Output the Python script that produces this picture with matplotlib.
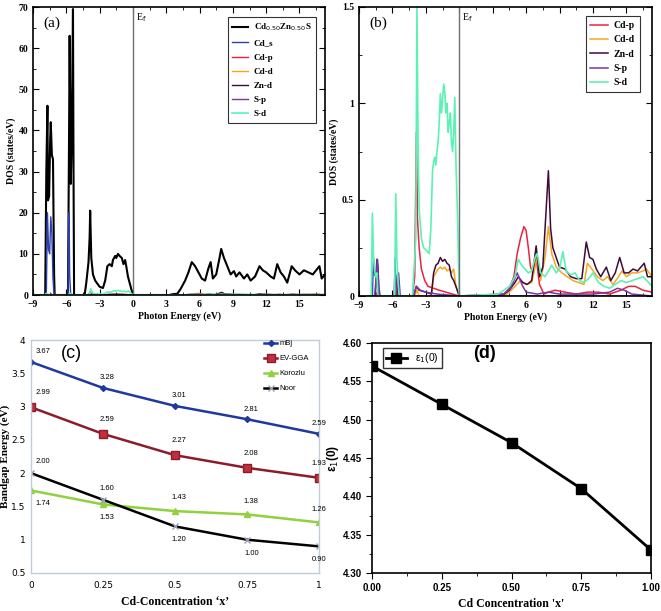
import matplotlib.pyplot as plt
import numpy as np

# ---------------- data ----------------
# (a) total DOS of Cd0.50Zn0.50S
tot_e = [-9, -7.9, -7.8, -7.7, -7.65, -7.55, -7.45, -7.4, -7.3, -7.2, -7.1, -7.05, -5.85, -5.75, -5.7,
         -5.6, -5.5, -5.45, -5.4, -5.35, -5.3, -4.35, -4.2, -4.0, -3.9, -3.85, -3.75, -3.6, -3.4, -3.0,
         -2.7, -2.5, -2.3, -2.1, -1.9, -1.8, -1.6, -1.5, -1.35, -1.2, -1.0, -0.85, -0.7, -0.6, -0.45,
         -0.3, -0.1, 0, 3.3, 3.6, 4.0, 4.3, 4.7, 5.0, 5.3, 5.6, 5.9, 6.2, 6.5, 6.8, 7.0, 7.2, 7.5,
         7.8, 7.95, 8.2, 8.5, 8.8, 9.1, 9.3, 9.6, 10.0, 10.3, 10.6, 11.0, 11.4, 11.7, 12.0, 12.4,
         12.7, 13.0, 13.3, 13.6, 13.9, 14.3, 14.6, 15.0, 15.4, 15.8, 16.2, 16.5, 16.8, 17.0, 17.3]
tot_d = [0, 0, 30, 46, 23, 24, 38, 42, 34, 33, 5, 0, 0, 40, 63,
         27, 40, 55, 69.5, 30, 0, 0, 3, 8, 14, 20.5, 9, 5, 3.5, 2,
         1.7, 3.5, 7, 7.5, 7, 8.5, 9.5, 9, 10, 9.5, 9, 7.5, 8.5, 7, 4.5,
         3, 1, 0, 0, 0.2, 0.3, 1.5, 3.5, 5.5, 8, 7, 5.5, 4, 3.5, 6.5, 8, 4, 5,
         9, 11.2, 9, 7, 5, 5.8, 4.5, 5.5, 4, 5, 3.5, 4.5, 7, 6, 5.5, 4.5,
         4, 7.5, 5.5, 4.5, 3, 7, 6, 5, 6, 5.5, 5, 6, 7, 4, 5]
# (a) Cd s
cds_e = [-9, -7.8, -7.7, -7.6, -7.5, -7.4, -7.3, -7.2, -7.1, -5.85, -5.75, -5.7, -5.6, 17.3]
cds_d = [0, 0, 20, 11, 10, 19, 15, 4, 0, 0, 20, 5, 0, 0]
# (a)/(b) partial DOS
sd_e = [-9, -7.9, -7.8, -7.7, -7.6, -7.5, -7.4, -7.3, -5.8, -5.7, -5.6, -5.5, -5.4, -4.2, -3.9,
        -3.8, -3.7, -3.6, -3.4, -3.2, -3.0, -2.7, -2.55, -2.4, -2.3, -2.2, -2.1, -2.0, -1.9, -1.8,
        -1.7, -1.6, -1.5, -1.4, -1.3, -1.2, -1.1, -1.0, -0.9, -0.8, -0.7, -0.6, -0.5, -0.4, -0.3,
        -0.15, 0, 3.5, 4.0, 4.5, 5.0, 5.3, 5.6, 5.9, 6.2, 6.5, 6.8, 7.0, 7.3, 7.7, 8.0, 8.3, 8.7,
        9.0, 9.3, 9.6, 10.0, 10.4, 10.8, 11.2, 11.6, 12.0, 12.5, 13.0, 13.5, 14.0, 14.5, 15.0, 15.5,
        16.0, 16.5, 17.0, 17.3]
sd_d = [0, 0, 0.43, 0.2, 0.13, 0.1, 0.12, 0, 0, 0.53, 0.2, 0.08, 0, 0, 0.3,
        1.5, 0.8, 0.45, 0.3, 0.25, 0.24, 0.22, 0.35, 0.65, 0.7, 0.72, 0.68, 0.75, 0.8, 0.9,
        1.05, 0.95, 1.02, 1.1, 1.06, 0.95, 1.0, 0.85, 0.9, 0.95, 0.8, 0.75, 0.85, 1.03, 0.7,
        0.4, 0, 0.01, 0.03, 0.05, 0.1, 0.19, 0.16, 0.14, 0.12, 0.13, 0.2, 0.22, 0.12, 0.1, 0.13, 0.16, 0.12,
        0.14, 0.23, 0.13, 0.11, 0.12, 0.08, 0.07, 0.09, 0.12, 0.07, 0.05, 0.04, 0.06, 0.08, 0.07, 0.08,
        0.09, 0.1, 0.07, 0.05]
cdp_e = [-9, -7.6, -7.5, -7.4, -5.7, -5.6, -5.5, -4.2, -4.0, -3.85, -3.75, -3.6, -3.4, -3.1, -2.8,
         -2.3, -1.8, -1.2, -0.6, 0, 4.0, 4.5, 4.9, 5.2, 5.5, 5.8, 6.0, 6.2, 6.4, 6.6, 6.9, 7.2,
         7.6, 8.0, 8.6, 9.5, 10.5, 11.5, 12.5, 13.5, 14.5, 15.2, 15.8, 16.5, 17.3]
cdp_d = [0, 0, 0.02, 0, 0, 0.05, 0, 0, 0.1, 0.85, 0.4, 0.25, 0.14, 0.08, 0.05,
         0.04, 0.03, 0.02, 0.01, 0, 0.01, 0.04, 0.1, 0.22, 0.3, 0.36, 0.34, 0.25, 0.15, 0.12, 0.2, 0.06,
         0.01, 0.02, 0.03, 0.02, 0.01, 0.02, 0.02, 0.01, 0.03, 0.05, 0.05, 0.03, 0.02]
cdd_e = [-9, -4.0, -3.8, -3.6, -2.5, -2.3, -2.1, -1.9, -1.7, -1.5, -1.3, -1.1, -0.9, -0.7, -0.5,
         -0.3, 0, 4.0, 4.5, 5.0, 5.5, 6.0, 6.5, 6.8, 7.0, 7.3, 7.7, 8.0, 8.3, 8.7, 9.2, 9.7,
         10.2, 10.7, 11.2, 11.5, 11.9, 12.4, 12.9, 13.3, 13.8, 14.3, 14.6, 15.0, 15.5, 16.0, 16.5,
         16.8, 17.3]
cdd_d = [0, 0, 0.03, 0, 0, 0.1, 0.12, 0.14, 0.15, 0.14, 0.15, 0.13, 0.14, 0.12, 0.14,
         0.05, 0, 0, 0.02, 0.05, 0.08, 0.06, 0.07, 0.15, 0.2, 0.08, 0.2, 0.36, 0.22, 0.15, 0.12, 0.1,
         0.08, 0.07, 0.06, 0.17, 0.14, 0.1, 0.08, 0.1, 0.06, 0.1, 0.13, 0.1, 0.12, 0.12, 0.13,
         0.14, 0.1]
znd_e = [-9, -7.55, -7.45, -7.35, -7.25, -5.65, -5.55, -5.45, -4.1, -3.85, -3.6, -3.0, -2.5, -2.3,
         -2.1, -1.9, -1.7, -1.5, -1.3, -1.1, -0.9, -0.7, -0.5, -0.3, 0, 3.8, 4.5, 5.0, 5.3, 5.7,
         6.1, 6.5, 6.9, 7.2, 7.5, 7.8, 8.0, 8.2, 8.4, 8.7, 9.0, 9.5, 10.0, 10.5, 11.0, 11.4, 11.7,
         12.0, 12.3, 12.7, 13.2, 13.6, 14.0, 14.4, 14.8, 15.2, 15.6, 16.0, 16.3, 16.6, 16.9, 17.3]
znd_d = [0, 0, 0.08, 0.19, 0, 0, 0.11, 0, 0, 0.05, 0.03, 0.02, 0.01, 0.12,
         0.16, 0.17, 0.2, 0.18, 0.19, 0.17, 0.16, 0.1, 0.08, 0.05, 0, 0, 0.03, 0.07, 0.1, 0.07,
         0.06, 0.08, 0.26, 0.1, 0.15, 0.45, 0.65, 0.35, 0.25, 0.2, 0.15, 0.14, 0.1, 0.09, 0.09, 0.28, 0.2,
         0.19, 0.14, 0.1, 0.15, 0.08, 0.12, 0.2, 0.12, 0.12, 0.14, 0.13, 0.15, 0.17, 0.1, 0.1]
sp_e = [-9, -7.6, -7.45, -7.35, -7.2, -5.7, -5.55, -5.45, -5.3, -4.1, -3.85, -3.5, -3.0, -2.0, -1.0,
        0, 4.0, 4.6, 5.2, 5.7, 6.0, 7.0, 8.0, 9.0, 12.0, 13.5, 14.2, 14.8, 15.5, 17.3]
sp_d = [0, 0, 0.1, 0.19, 0, 0, 0.08, 0.12, 0, 0, 0.05, 0.03, 0.02, 0.01, 0.005,
        0, 0.01, 0.04, 0.12, 0.05, 0.02, 0.01, 0.02, 0.01, 0.01, 0.02, 0.04, 0.03, 0.01, 0]

# (c) bandgap data
conc = [0, 0.25, 0.5, 0.75, 1]
mbj = [3.67, 3.28, 3.01, 2.81, 2.59]
evgga = [2.99, 2.59, 2.27, 2.08, 1.93]
korozlu = [1.74, 1.53, 1.43, 1.38, 1.26]
noor = [2.00, 1.60, 1.20, 1.00, 0.90]

# (d) static dielectric constant
eps1 = [4.57, 4.52, 4.47, 4.41, 4.33]

c_tot, c_cds = "black", "#2b3fb0"
c_cdp, c_cdd, c_znd, c_sp, c_sd = "#e8233f", "#f6a623", "#3d0b3a", "#7a35a6", "#5cf2b4"

serif = ["Liberation Serif", "DejaVu Serif"]
sans = ["Liberation Sans", "DejaVu Sans"]

fig = plt.figure(figsize=(6.61, 6.11), dpi=100)


def dos_style(ax, ymax, yticks, yminor):
    ax.set_xlim(-9, 17.3)
    ax.set_ylim(0, ymax)
    ax.set_xticks(range(-9, 17, 3))
    ax.set_xticks(np.arange(-7.5, 17, 3), minor=True)
    ax.set_yticks(yticks)
    ax.set_yticks(yminor, minor=True)
    ax.tick_params(which="both", direction="in", top=True, right=True, labelsize=7)
    ax.tick_params(which="major", length=4)
    ax.tick_params(which="minor", length=2)
    for lab in ax.get_xticklabels() + ax.get_yticklabels():
        lab.set_fontfamily(serif)
        lab.set_fontweight("bold")
    for s in ax.spines.values():
        s.set_linewidth(1.2)
    ax.axvline(0, color="#707070", lw=1)
    ax.text(0.25, ymax * 0.985, "E$_\\mathrm{f}$", va="top", fontsize=7, family=serif)
    ax.set_xlabel("Photon Energy (eV)", fontsize=7, family=serif, fontweight="bold", labelpad=2)
    ax.set_ylabel("DOS (states/eV)", fontsize=7, family=serif, fontweight="bold", labelpad=2)


# ---- (a)
ax1 = fig.add_axes([33 / 661, 1 - 295 / 611, 292 / 661, 288 / 611])
ax1.plot(tot_e, tot_d, color=c_tot, lw=1.5, label="Cd$_{0.50}$Zn$_{0.50}$S")
ax1.plot(cds_e, cds_d, color=c_cds, lw=1, label="Cd_s")
ax1.plot(cdp_e, cdp_d, color=c_cdp, lw=1, label="Cd-p")
ax1.plot(cdd_e, cdd_d, color=c_cdd, lw=1, label="Cd-d")
ax1.plot(znd_e, znd_d, color=c_znd, lw=1, label="Zn-d")
ax1.plot(sp_e, sp_d, color=c_sp, lw=1, label="S-p")
ax1.plot(sd_e, sd_d, color=c_sd, lw=1.2, label="S-d")
dos_style(ax1, 70, range(0, 71, 10), range(5, 70, 10))
ax1.text(0.035, 0.93, "(a)", transform=ax1.transAxes, fontsize=11, family=serif)
leg = ax1.legend(loc="upper right", bbox_to_anchor=(0.985, 0.98),
                 prop={"family": serif, "weight": "bold", "size": 6.5},
                 fancybox=False, edgecolor="black", handlelength=1.8, labelspacing=0.65,
                 borderpad=0.5, handletextpad=0.6)
leg.get_frame().set_linewidth(0.8)

# ---- (b)
ax2 = fig.add_axes([359 / 661, 1 - 296 / 611, 293 / 661, 289 / 611])
ax2.plot(cds_e, [v / 100 for v in cds_d], color=c_cds, lw=1)
ax2.plot(cdp_e, cdp_d, color=c_cdp, lw=1.1, label="Cd-p")
ax2.plot(cdd_e, cdd_d, color=c_cdd, lw=1.1, label="Cd-d")
ax2.plot(znd_e, znd_d, color=c_znd, lw=1.1, label="Zn-d")
ax2.plot(sp_e, sp_d, color=c_sp, lw=1.1, label="S-p")
ax2.plot(sd_e, sd_d, color=c_sd, lw=1.2, label="S-d")
dos_style(ax2, 1.5, [0, 0.5, 1, 1.5], [0.25, 0.75, 1.25])
ax2.set_yticklabels(["0", "0.5", "1", "1.5"])
for lab in ax2.get_yticklabels():
    lab.set_fontfamily(serif)
    lab.set_fontweight("bold")
ax2.text(0.035, 0.93, "(b)", transform=ax2.transAxes, fontsize=11, family=serif)
leg = ax2.legend(loc="upper right", bbox_to_anchor=(0.975, 0.985),
                 prop={"family": serif, "weight": "bold", "size": 7},
                 fancybox=False, edgecolor="black", handlelength=1.8, labelspacing=0.55,
                 borderpad=0.5, handletextpad=0.6)
leg.get_frame().set_linewidth(0.8)

# ---- (c)
ax3 = fig.add_axes([31 / 661, 38 / 611, 288 / 661, 233 / 611])
ax3.plot(conc, mbj, color="#20399e", lw=1.8, marker="D", ms=3, label="mBj")
ax3.plot(conc, evgga, color="#8c1c2c", lw=1.8, marker="s", ms=6, mfc="#c0303c",
         mec="#8c1c2c", label="EV-GGA")
ax3.plot(conc, korozlu, color="#8fd13f", lw=1.8, marker="^", ms=4, label="Korozlu")
ax3.plot(conc, noor, color="black", lw=1.8, marker="x", ms=5, mec="#9aa0b0", label="Noor")
ax3.set_xlim(0, 1)
ax3.set_ylim(0.5, 4)
ax3.set_xticks(conc)
ax3.set_xticklabels(["0", "0.25", "0.5", "0.75", "1"])
ax3.set_yticks(np.arange(0.5, 4.01, 0.5))
ax3.set_yticklabels(["0.5", "1", "1.5", "2", "2.5", "3", "3.5", "4"])
ax3.tick_params(axis="x", length=0, labelsize=6.5, pad=6)
ax3.tick_params(axis="y", length=0, labelsize=6.5, pad=4)
for s in ax3.spines.values():
    s.set_color("#c0ccd8")
    s.set_linewidth(1)
ax3.set_xlabel("Cd-Concentration \u2018x\u2019", fontsize=8.5, family=serif, fontweight="bold")
ax3.xaxis.set_label_coords(0.5, -0.1)
ax3.set_ylabel("Bandgap Energy (eV)", fontsize=8, family=serif, fontweight="bold")
ax3.yaxis.set_label_coords(-0.072, 0.5)
ax3.text(0.14, 0.94, "(c)", transform=ax3.transAxes, fontsize=13, family=sans,
         ha="center", va="center")


def lab_dx(i):
    return 0.0 if i == 4 else 0.015


for i, (x, y) in enumerate(zip(conc, mbj)):
    ax3.text(x + lab_dx(i), y + 0.15, f"{y:.2f}", fontsize=5.5, family=sans,
             ha="left" if x == 0 else "center", va="center")
for i, (x, y) in enumerate(zip(conc, evgga)):
    ax3.text(x + lab_dx(i), y + 0.22, f"{y:.2f}", fontsize=5.5, family=sans,
             ha="left" if x == 0 else "center", va="center")
for i, (x, y) in enumerate(zip(conc, korozlu)):
    dy = -0.2 if i < 2 else 0.2
    ax3.text(x + lab_dx(i), y + dy, f"{y:.2f}", fontsize=5.5, family=sans,
             ha="left" if x == 0 else "center", va="center")
for i, (x, y) in enumerate(zip(conc, noor)):
    dy = 0.17 if i < 2 else -0.2
    ax3.text(x + lab_dx(i), y + dy, f"{y:.2f}", fontsize=5.5, family=sans,
             ha="left" if x == 0 else "center", va="center")
leg = ax3.legend(loc="upper right", bbox_to_anchor=(0.99, 1.03), frameon=False,
                 prop={"family": sans, "size": 5.5}, handlelength=1.8, labelspacing=1.0,
                 handletextpad=0.3)

# ---- (d)
ax4 = fig.add_axes([372 / 661, 38 / 611, 279 / 661, 230 / 611])
ax4.plot(conc, eps1, color="black", lw=2, marker="s", ms=6.5, label="\u03b5$_1$(0)")
ax4.set_xlim(0, 1)
ax4.set_ylim(4.30, 4.60)
ax4.set_xticks(conc)
ax4.set_xticks(np.arange(0.125, 1, 0.25), minor=True)
ax4.set_yticks(np.arange(4.30, 4.601, 0.05))
ax4.set_yticks(np.arange(4.325, 4.6, 0.05), minor=True)
ax4.xaxis.set_major_formatter(plt.FormatStrFormatter("%.2f"))
ax4.yaxis.set_major_formatter(plt.FormatStrFormatter("%.2f"))
ax4.tick_params(which="both", direction="out", labelsize=7)
ax4.tick_params(which="major", length=4)
ax4.tick_params(which="minor", length=2)
for lab in ax4.get_xticklabels() + ax4.get_yticklabels():
    lab.set_fontfamily(sans)
    lab.set_fontweight("bold")
for s in ax4.spines.values():
    s.set_linewidth(1.2)
ax4.set_xlabel("Cd Concentration 'x'", fontsize=8.5, family=serif, fontweight="bold")
ax4.xaxis.set_label_coords(0.5, -0.11)
ax4.set_ylabel("\u03b5$_1$(0)", fontsize=8.5, family=sans, fontweight="bold")
ax4.yaxis.set_label_coords(-0.11, 0.5)
ax4.text(0.405, 0.955, "(d)", transform=ax4.transAxes, fontsize=13, family=sans,
         fontweight="bold", ha="center", va="center")
leg = ax4.legend(loc="upper left", bbox_to_anchor=(0.02, 1.0), fancybox=False, edgecolor="black",
                 prop={"family": sans, "size": 7.5}, handlelength=2.0, borderpad=0.3)
leg.get_frame().set_linewidth(1)

fig.savefig("out.png", dpi=100)
